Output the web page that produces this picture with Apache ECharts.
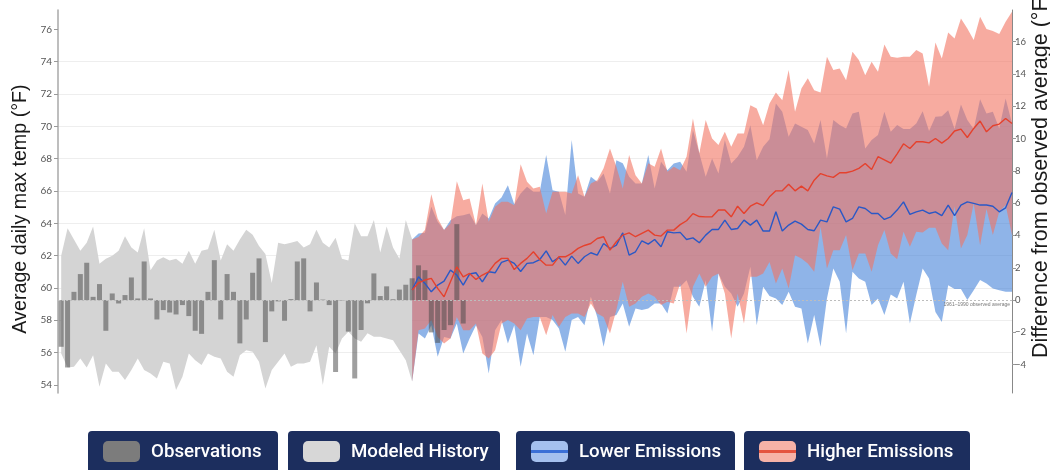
<!DOCTYPE html>
<html>
<head>
<meta charset="utf-8">
<script src="https://cdn.jsdelivr.net/npm/echarts@6.0.0/dist/echarts.min.js"></script>
<style>
html,body{margin:0;padding:0;background:#fff;}
#chart{width:1050px;height:470px;}
</style>
</head>
<body>
<div id="chart"></div>
<script>
// ---------------- DATA ----------------
const HIST_START = 1950;      // modeled history 1950-2005
const OBS_START = 1950;       // observations 1950-2013
const PROJ_START = 2005;      // projections 2005-2099
const BASELINE = 59.25;       // 1961-1990 observed average (°F)

const leftTicks = [54, 56, 58, 60, 62, 64, 66, 68, 70, 72, 74, 76];
const rightTicks = [-4, -2, 0, 2, 4, 6, 8, 10, 12, 14, 16];

const observations = [
  56.36, 55.08, 59.76, 60.86, 61.56, 59.45, 60.24, 57.35, 59.66, 59.04,
  59.56, 60.65, 59.35, 61.64, 59.35, 58.05, 58.63, 58.48, 58.36, 58.94,
  58.26, 57.35, 57.16, 59.76, 61.72, 58.05, 60.86, 59.76, 56.57, 58.05,
  60.94, 61.83, 56.65, 58.55, 59.17, 57.97, 59.31, 61.64, 61.83, 58.55,
  60.34, 59.28, 58.94, 54.80, 59.22, 57.30, 54.40, 57.40, 59.05, 60.90,
  59.50, 60.10, 59.30, 59.90, 60.20, 60.60, 61.40, 61.10, 57.25, 56.60,
  57.40, 57.70, 63.95, 57.80
];

const historyUpper = [
  62.0, 63.7, 63.0, 62.3, 62.8, 63.8, 61.5, 61.8, 62.0, 62.3,
  63.2, 62.5, 62.2, 63.7, 61.1, 61.7, 61.9, 61.7, 61.8, 61.5,
  62.3, 61.5, 62.3, 62.4, 63.6, 61.7, 62.7, 62.3, 63.0, 63.6,
  63.3, 62.6, 62.1, 60.3, 62.8, 62.7, 62.8, 62.9, 62.5, 62.7,
  63.6, 62.8, 62.5, 63.1, 61.8, 61.7, 64.0, 63.2, 63.2, 64.2,
  62.2, 63.8, 62.5, 61.8, 64.2, 63.0
];
const historyLower = [
  55.95, 55.08, 55.12, 55.64, 55.08, 55.84, 53.88, 55.33, 54.81, 54.81,
  54.30, 54.92, 55.64, 54.92, 54.71, 54.40, 55.43, 55.33, 53.68, 54.50,
  55.95, 55.53, 55.23, 55.95, 55.74, 55.64, 54.81, 54.50, 55.84, 56.15,
  56.05, 55.43, 53.78, 54.92, 55.43, 55.95, 55.12, 55.33, 55.33, 55.43,
  56.46, 53.99, 56.36, 55.95, 56.88, 57.29, 56.88, 56.67, 57.19, 56.98,
  56.98, 56.88, 56.77, 56.15, 55.53, 54.20
];

const higherUpper = [
  63.00, 63.16, 63.58, 65.80, 64.30, 63.58, 63.99, 66.61, 65.43, 65.54,
  63.88, 66.46, 64.09, 65.02, 65.33, 65.33, 65.12, 67.66, 66.57, 66.16,
  66.26, 64.61, 65.95, 65.95, 65.95, 65.85, 66.98, 65.64, 66.47, 66.67,
  67.40, 68.63, 67.50, 66.16, 68.22, 66.98, 66.47, 67.71, 67.50, 68.63,
  67.19, 67.50, 67.29, 68.12, 70.49, 68.33, 70.39, 69.25, 68.84, 69.66,
  68.74, 69.56, 69.56, 71.31, 71.11, 70.07, 71.42, 72.10, 71.62, 73.48,
  70.90, 72.35, 72.97, 72.24, 72.10, 74.31, 73.48, 73.58, 72.86, 74.62,
  74.10, 73.17, 74.00, 73.38, 75.07, 74.31, 74.24, 74.31, 74.31, 74.72,
  74.51, 72.45, 75.19, 74.20, 75.81, 75.44, 76.68, 76.06, 75.34, 76.78,
  76.02, 75.90, 75.71, 76.47, 77.09
];
const higherLower = [
  54.20, 57.39, 57.49, 58.01, 56.97, 56.56, 56.87, 58.21, 57.39, 57.39,
  57.80, 55.94, 55.63, 56.15, 57.80, 58.01, 57.80, 57.39, 58.11, 58.21,
  58.21, 57.08, 58.32, 57.60, 58.21, 58.42, 58.42, 58.21, 59.04, 58.42,
  58.21, 57.18, 58.63, 60.38, 58.83, 59.04, 59.45, 59.66, 59.45, 58.94,
  59.14, 59.04, 60.28, 57.18, 60.07, 60.90, 60.07, 60.69, 60.90, 59.66,
  56.87, 59.66, 57.80, 60.69, 60.69, 60.90, 61.60, 60.28, 61.21, 59.97,
  62.03, 61.82, 61.52, 61.00, 63.78, 61.21, 62.34, 62.34, 63.27, 61.10,
  62.13, 62.13, 61.00, 62.65, 63.58, 62.13, 61.78, 63.48, 62.55, 63.48,
  63.43, 63.72, 63.72, 62.75, 62.34, 65.06, 62.44, 63.27, 65.23, 62.65,
  64.88, 63.27, 64.71, 65.13, 63.27
];
const higherMedian = [
  59.87, 60.32, 60.49, 60.59, 59.97, 59.45, 60.38, 61.31, 60.69, 60.90,
  60.53, 60.80, 61.00, 61.52, 61.83, 61.83, 61.14, 61.52, 61.83, 62.24,
  61.76, 61.41, 61.41, 61.93, 61.93, 62.14, 62.45, 62.63, 62.75, 63.06,
  63.17, 62.34, 62.86, 63.27, 63.41, 63.17, 63.38, 63.58, 63.27, 63.21,
  63.58, 63.58, 63.92, 64.16, 64.60, 64.42, 64.40, 64.40, 64.82, 64.82,
  64.40, 65.06, 64.61, 65.06, 65.27, 65.10, 65.64, 66.01, 66.01, 66.42,
  66.01, 66.30, 66.01, 66.67, 67.08, 66.94, 66.84, 67.13, 67.13, 67.23,
  67.40, 67.70, 67.33, 68.12, 67.93, 67.72, 68.30, 68.92, 68.63, 69.05,
  69.05, 68.98, 69.25, 68.96, 69.25, 69.71, 69.83, 69.31, 69.87, 70.33,
  69.66, 70.04, 70.14, 70.49, 70.18
];

const lowerUpper = [
  63.00, 63.37, 63.41, 65.02, 64.09, 63.58, 64.19, 64.44, 64.50, 64.61,
  63.88, 64.61, 64.30, 65.23, 65.60, 66.36, 65.18, 65.84, 66.26, 65.95,
  65.95, 68.22, 66.05, 65.95, 64.51, 69.15, 65.85, 65.64, 66.88, 66.57,
  67.09, 65.85, 67.91, 67.71, 66.88, 66.47, 66.47, 68.22, 66.16, 67.81,
  67.29, 67.70, 67.81, 67.19, 69.77, 68.33, 66.88, 68.01, 67.09, 69.15,
  67.70, 68.12, 68.74, 70.07, 67.91, 68.74, 69.20, 71.42, 70.90, 69.35,
  70.18, 69.97, 69.77, 68.94, 70.39, 68.01, 70.39, 70.08, 69.87, 70.80,
  70.90, 68.63, 69.15, 69.46, 70.90, 69.66, 70.08, 69.83, 69.83, 70.18,
  70.94, 69.71, 70.59, 70.63, 71.00, 69.83, 71.36, 70.39, 69.83, 71.67,
  70.80, 70.90, 69.87, 71.73, 70.18
];
const lowerLower = [
  54.20, 57.18, 56.87, 57.70, 55.74, 56.97, 56.87, 57.80, 55.94, 56.87,
  57.70, 56.97, 54.70, 57.39, 58.01, 56.56, 57.70, 55.12, 57.18, 55.84,
  58.21, 58.21, 58.01, 57.49, 56.05, 58.01, 58.21, 57.70, 59.45, 58.21,
  56.36, 58.21, 58.32, 59.04, 57.60, 58.73, 58.63, 58.73, 59.04, 59.04,
  58.42, 60.07, 60.07, 60.48, 59.45, 58.83, 60.48, 57.29, 60.90, 60.07,
  59.66, 58.83, 59.66, 61.31, 57.70, 60.07, 59.50, 59.35, 58.94, 59.76,
  58.83, 58.73, 56.56, 58.32, 56.36, 59.35, 61.21, 60.38, 57.18, 61.00,
  60.59, 60.38, 58.94, 59.35, 58.32, 59.60, 59.35, 60.38, 57.80, 59.56,
  61.21, 60.59, 58.52, 57.90, 60.17, 59.93, 59.93, 59.25, 59.86, 60.49,
  60.28, 59.97, 59.86, 59.76, 59.76
];
const lowerMedian = [
  59.87, 60.69, 60.28, 59.76, 60.18, 60.42, 61.10, 60.80, 60.18, 60.86,
  60.94, 60.38, 61.00, 60.94, 61.58, 61.72, 61.52, 61.02, 61.52, 61.56,
  61.76, 62.30, 61.62, 61.89, 61.41, 61.97, 61.52, 61.93, 62.18, 62.03,
  62.75, 62.44, 62.65, 63.41, 62.03, 62.24, 62.92, 62.71, 63.00, 62.55,
  63.48, 63.41, 63.44, 63.00, 63.10, 62.80, 63.27, 63.62, 63.62, 64.20,
  63.62, 63.68, 64.20, 63.89, 64.20, 63.52, 63.52, 64.71, 63.52, 63.89,
  64.14, 63.95, 63.62, 63.54, 64.20, 64.09, 65.02, 64.88, 64.09, 64.30,
  65.02, 64.92, 64.61, 64.61, 64.24, 64.40, 64.82, 65.33, 64.55, 64.71,
  64.82, 64.61, 64.71, 64.47, 65.13, 64.47, 65.13, 65.33, 65.23, 65.13,
  65.13, 65.06, 64.71, 64.96, 65.91
];

// ---------------- BUILD ----------------
function yearsFrom(start, n) { const a = []; for (let i = 0; i < n; i++) a.push(start + i); return a; }
const histYears = yearsFrom(HIST_START, historyUpper.length);
const obsYears = yearsFrom(OBS_START, observations.length);
const projYears = yearsFrom(PROJ_START, higherUpper.length);

const LEFT_MIN = 53.5, LEFT_MAX = 77.2;

function bandSeries(name, years, lo, hi, fill, z) {
  return {
    type: 'custom', name: name, z: z, silent: true, clip: true,
    data: years.map((y, i) => [y, lo[i], hi[i]]),
    encode: { x: 0, y: [1, 2] },
    renderItem: function (params, api) {
      if (params.dataIndex !== 0) return;
      const pts = [];
      for (let i = 0; i < years.length; i++) pts.push(api.coord([years[i], hi[i]]));
      for (let i = years.length - 1; i >= 0; i--) pts.push(api.coord([years[i], lo[i]]));
      return { type: 'polygon', shape: { points: pts }, style: { fill: fill } };
    }
  };
}

const minus = v => (v < 0 ? '\u2212' + Math.abs(v) : String(v));

const legendItems = [
  { label: 'Observations', x: 88, w: 190, fill: '#7c7c7c' },
  { label: 'Modeled History', x: 288, w: 212, fill: '#d7d7d7' },
  { label: 'Lower Emissions', x: 516, w: 219, fill: '#a5c0ee', line: '#3b6fd6' },
  { label: 'Higher Emissions', x: 744, w: 226, fill: '#f6b2a7', line: '#e4533f' }
];
const graphics = [];
legendItems.forEach(it => {
  graphics.push({ type: 'rect', z: 100, shape: { x: it.x, y: 431, width: it.w, height: 50, r: 4 }, style: { fill: '#1c2e5e' } });
  graphics.push({ type: 'rect', z: 101, shape: { x: it.x + 15, y: 441, width: 37, height: 21, r: 5 }, style: { fill: it.fill } });
  if (it.line) graphics.push({ type: 'rect', z: 102, shape: { x: it.x + 15, y: 450, width: 37, height: 3 }, style: { fill: it.line } });
  graphics.push({ type: 'text', z: 102, x: it.x + 63, y: 452, style: { text: it.label, fill: '#ffffff', font: '500 18.7px Roboto', textVerticalAlign: 'middle', textAlign: 'left' } });
});
graphics.push({ type: 'text', x: 21, y: 209, rotation: Math.PI / 2, style: { text: 'Average daily max temp (°F)', fill: '#1a1a1a', font: '19.7px "Liberation Sans"', textAlign: 'center', textVerticalAlign: 'middle' } });
graphics.push({ type: 'text', x: 1041, y: 358, rotation: Math.PI / 2, style: { text: 'Difference from observed average (°F)', fill: '#1a1a1a', font: '21.5px "Liberation Sans"', textAlign: 'left', textVerticalAlign: 'middle' } });

const chart = echarts.init(document.getElementById('chart'), null, { renderer: 'canvas' });
chart.setOption({
  animation: false,
  backgroundColor: '#ffffff',
  grid: { left: 58, right: 38, top: 10, bottom: 77, containLabel: false },
  xAxis: { type: 'value', min: 1949.5, max: 2099, show: false },
  yAxis: [
    {
      type: 'value', min: LEFT_MIN, max: LEFT_MAX, minInterval: 2, maxInterval: 2,
      axisLine: { show: true, lineStyle: { color: '#a8a8a8', width: 1.5 } },
      axisTick: { show: true, length: 4, lineStyle: { color: '#999' }, customValues: leftTicks },
      axisLabel: { color: '#555', fontSize: 10, fontFamily: 'Lato', margin: 6, customValues: leftTicks,
        formatter: v => (leftTicks.indexOf(v) >= 0 ? String(v) : '') },
      splitLine: { show: true, showMinLine: false, showMaxLine: false, lineStyle: { color: '#eeeeee', width: 1 } }
    },
    {
      type: 'value', position: 'right', min: LEFT_MIN - BASELINE, max: LEFT_MAX - BASELINE, minInterval: 2, maxInterval: 2,
      axisLine: { show: true, lineStyle: { color: '#888', width: 1 } },
      axisTick: { show: true, length: 4, lineStyle: { color: '#999' }, customValues: rightTicks },
      axisLabel: { color: '#555', fontSize: 9.5, fontFamily: 'Lato', margin: 3, customValues: rightTicks,
        formatter: v => (rightTicks.indexOf(v) >= 0 ? minus(v) : '') },
      splitLine: { show: false }
    }
  ],
  series: [
    bandSeries('Modeled History', histYears, historyLower, historyUpper, '#d4d4d4', 1),
    bandSeries('Lower Emissions', projYears, lowerLower, lowerUpper, 'rgba(68,130,217,0.6)', 2),
    bandSeries('Higher Emissions', projYears, higherLower, higherUpper, 'rgba(242,115,97,0.6)', 3),
    {
      type: 'bar', name: 'Observations', yAxisIndex: 1, z: 4, barWidth: 5, clip: false, silent: true,
      itemStyle: { color: 'rgba(70,70,70,0.52)' },
      data: obsYears.map((y, i) => [y, +(observations[i] - BASELINE).toFixed(3)]),
      markLine: {
        silent: true, symbol: 'none',
        lineStyle: { type: [2, 2], color: '#bdbdbd', width: 1 },
        label: { show: true, position: 'insideEndBottom', formatter: '1961\u20131990 observed average', fontSize: 5, color: '#777', distance: 2 },
        data: [{ yAxis: 0 }]
      }
    },
    {
      type: 'line', name: 'Lower median', z: 5, symbol: 'none', silent: true,
      lineStyle: { color: '#2a58c6', width: 1.4 },
      data: projYears.map((y, i) => [y, lowerMedian[i]])
    },
    {
      type: 'line', name: 'Higher median', z: 6, symbol: 'none', silent: true,
      lineStyle: { color: '#e5412d', width: 1.4 },
      data: projYears.map((y, i) => [y, higherMedian[i]])
    }
  ],
  graphic: graphics
});
</script>
</body>
</html>
